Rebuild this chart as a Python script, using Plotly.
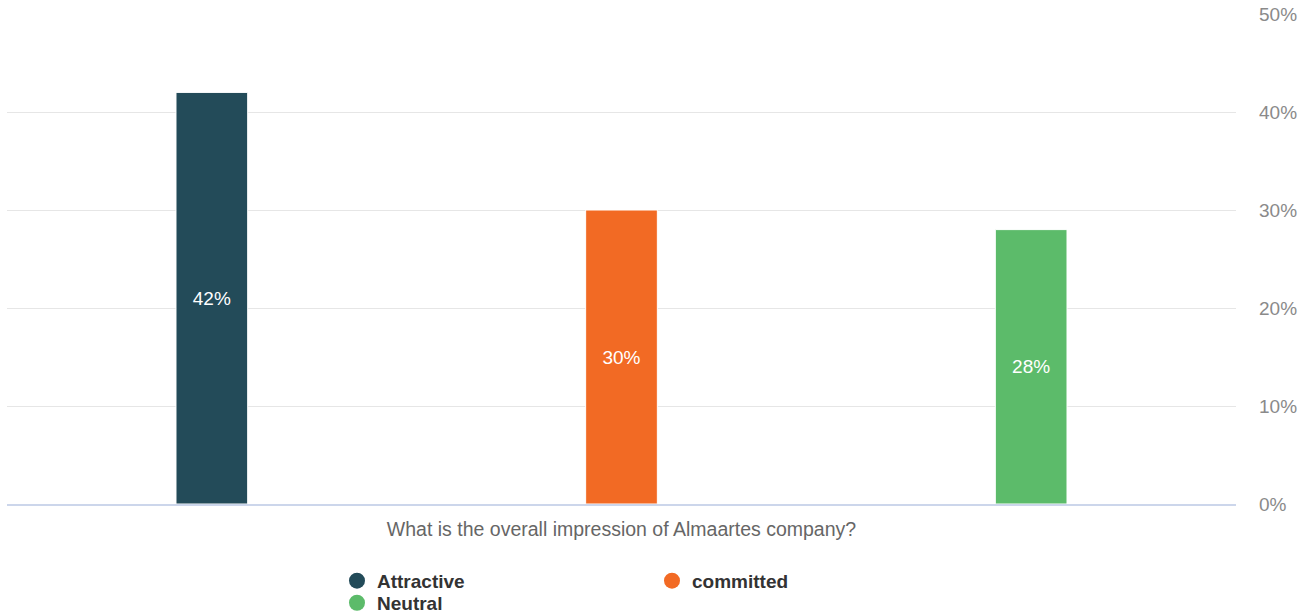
import plotly.graph_objects as go

# Survey answers and their shares (%)
categories = ["Attractive", "committed", "Neutral"]
shares = [42, 30, 28]
colors = ["#234b59", "#f26a24", "#5cbb6a"]
tick_values = [0, 10, 20, 30, 40, 50]
tick_labels = ["0%", "10%", "20%", "30%", "40%", "50%"]
question = "What is the overall impression of Almaartes company?"

FONT = "Liberation Sans, Arial, Helvetica, sans-serif"

fig = go.Figure()

for name, value, color in zip(categories, shares, colors):
    fig.add_trace(go.Bar(
        x=[name], y=[value], name=name,
        width=0.175,
        marker=dict(color=color, line=dict(color="#ffffff", width=1)),
        text=[f"{value}%"], textposition="inside", insidetextanchor="middle",
        textfont=dict(family=FONT, size=19, color="#ffffff"),
        showlegend=False, hoverinfo="skip",
    ))

# Circle markers for the legend entries (first row and second row)
legend_rows = ["legend", "legend", "legend2"]
for name, color, lg in zip(categories, colors, legend_rows):
    fig.add_trace(go.Scatter(
        x=[None], y=[None], mode="markers", name=name,
        marker=dict(color=color, size=16, symbol="circle"),
        legend=lg,
    ))

legend_style = dict(
    orientation="h", xanchor="left", yanchor="top", yref="container",
    entrywidth=270, entrywidthmode="pixels",
    font=dict(family=FONT, size=19, color="#333333", weight="bold"),
    bgcolor="rgba(0,0,0,0)", itemclick=False, itemdoubleclick=False,
)

fig.update_layout(
    width=1312, height=614,
    margin=dict(l=7, r=76, t=14, b=110, autoexpand=False),
    paper_bgcolor="#ffffff", plot_bgcolor="#ffffff",
    barmode="overlay",
    xaxis=dict(
        type="category", categoryorder="array", categoryarray=categories,
        range=[-0.5, 2.5], showticklabels=False, ticks="", showgrid=False,
        showline=True, linecolor="#ccd6eb", linewidth=1.5, zeroline=False,
        title=dict(text=question, standoff=18,
                   font=dict(family=FONT, size=19.5, color="#666666")),
    ),
    yaxis=dict(
        side="right", range=[0, 50], tickvals=tick_values, ticktext=tick_labels,
        showgrid=True, gridcolor="#e6e6e6", gridwidth=1, zeroline=False,
        ticks="", ticklabelstandoff=22,
        tickfont=dict(family=FONT, size=19, color="#8a8a8a"),
        fixedrange=True,
    ),
    legend=dict(x=0.2685, y=0.085, **legend_style),
    legend2=dict(x=0.2685, y=0.049, **legend_style),
    showlegend=True,
)

fig.write_html("out.html")
